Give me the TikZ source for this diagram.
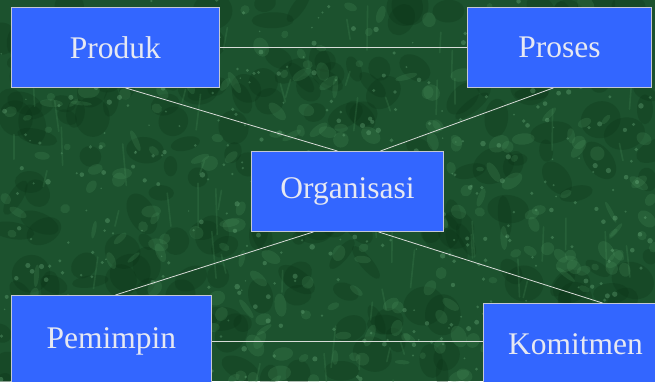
\documentclass[tikz,border=0pt]{standalone}
\usepackage{fontspec}
\setmainfont{Liberation Serif}
\definecolor{bggreen}{HTML}{1C522E}
\definecolor{bgdark}{HTML}{0B3317}
\definecolor{bglight}{HTML}{4E9460}
\definecolor{bgbright}{HTML}{7CC08E}
\definecolor{boxblue}{HTML}{3366FF}
\definecolor{boxline}{HTML}{C4C8D4}
\definecolor{boxtext}{HTML}{E6E8F2}
\definecolor{linkcol}{HTML}{D8DCD8}
\begin{document}
\begin{tikzpicture}[x=1pt,y=-1pt,
  box/.style={draw=boxline, line width=0.9pt, fill=boxblue, text=boxtext,
    font=\fontsize{31.5}{36}\selectfont, inner sep=0pt, anchor=north west},
  link/.style={draw=linkcol, line width=0.8pt}]
\useasboundingbox (0,0) rectangle (655,381);
\clip (0,0) rectangle (655,381);
% marble background
\fill[bggreen] (0,0) rectangle (655,381);
\pgfmathsetseed{11}
\foreach \i in {1,...,220}{
  \pgfmathsetmacro\xx{rnd*655}
  \pgfmathsetmacro\yy{rnd*381}
  \pgfmathsetmacro\rx{6+rnd*16}
  \pgfmathsetmacro\ry{6+rnd*16}
  \pgfmathsetmacro\rot{rnd*180}
  \fill[bgdark, opacity=0.28, rotate around={\rot:(\xx,\yy)}] (\xx,\yy) ellipse ({\rx} and {\ry});
}
\foreach \i in {1,...,260}{
  \pgfmathsetmacro\xx{rnd*655}
  \pgfmathsetmacro\yy{rnd*381}
  \pgfmathsetmacro\rx{3+rnd*9}
  \pgfmathsetmacro\ry{2+rnd*6}
  \pgfmathsetmacro\rot{rnd*180}
  \fill[bglight, opacity=0.22, rotate around={\rot:(\xx,\yy)}] (\xx,\yy) ellipse ({\rx} and {\ry});
}
\foreach \i in {1,...,400}{
  \pgfmathsetmacro\xx{rnd*655}
  \pgfmathsetmacro\yy{rnd*381}
  \pgfmathsetmacro\rr{0.8+rnd*2}
  \fill[bgbright, opacity=0.3] (\xx,\yy) circle (\rr);
}
\foreach \i in {1,...,70}{
  \pgfmathsetmacro\xx{rnd*655}
  \pgfmathsetmacro\yy{rnd*381}
  \pgfmathsetmacro\ll{12+rnd*35}
  \pgfmathsetmacro\dx{-5+rnd*10}
  \draw[bglight, opacity=0.22, line width=1.6pt, line cap=round] (\xx,\yy) -- ++(\dx,\ll);
}
% boxes
\node[box, minimum width=208pt, minimum height=80pt] (produk) at (11,7) {Produk};
\node[box, minimum width=184pt, minimum height=80pt] (proses) at (467,7) {Proses};
\node[box, minimum width=192pt, minimum height=80pt] (org) at (251,151) {Organisasi};
\node[box, minimum width=200pt, minimum height=92pt] (pemimpin) at (11,295) {Pemimpin};
\node[box, minimum width=184pt, minimum height=82pt] (komitmen) at (483,303) {Komitmen};
% connectors
\draw[link] (produk.east) -- (proses.west);
\draw[link] ([xshift=10pt]produk.south) -- ([xshift=-10pt]org.north);
\draw[link] ([xshift=-6pt]proses.south) -- ([xshift=33pt]org.north);
\draw[link] ([xshift=-34pt]org.south) -- ([xshift=4pt]pemimpin.north);
\draw[link] ([xshift=31pt]org.south) -- ([xshift=27pt]komitmen.north);
\draw[link] (pemimpin.east) -- (pemimpin.east -| komitmen.west);
\end{tikzpicture}
\end{document}
